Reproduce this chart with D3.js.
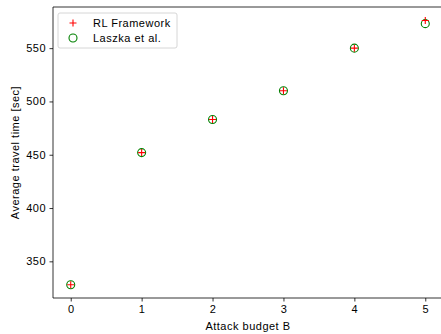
<!DOCTYPE html>
<html>
<head>
<meta charset="utf-8">
<script src="https://cdn.jsdelivr.net/npm/d3@7"></script>
<style>
  body { margin: 0; background: #fff; }
  svg { display: block; font-family: "Liberation Sans", Arial, sans-serif; letter-spacing: 0.5px; }
  .tick text { font-size: 11px; fill: #000; }
</style>
</head>
<body>
<script>
const budgets = [0, 1, 2, 3, 4, 5];
const rlTimes = [328, 452, 483, 510, 550, 576];
const laszkaTimes = [328, 452, 483, 510, 550, 573];
const yTicks = [350, 400, 450, 500, 550];
const seriesNames = ["RL Framework", "Laszka et al."];

const width = 441;
const height = 334;
const plotLeft = 53;
const plotTop = 7;
const plotBottom = 298;

const svg = d3.select("body")
  .append("svg")
  .attr("width", width)
  .attr("height", height);

const x = d3.scaleLinear()
  .domain([-0.25, 5.25])
  .range([plotLeft, 443]);

const y = d3.scaleLinear()
  .domain([315.6, 588.6])
  .range([plotBottom, plotTop]);

const xAxis = svg.append("g")
  .attr("transform", `translate(0, ${plotBottom})`)
  .call(d3.axisBottom(x).tickValues(budgets).tickFormat(d3.format("d"))
    .tickSize(3.5).tickPadding(3.5));

const yAxis = svg.append("g")
  .attr("transform", `translate(${plotLeft}, 0)`)
  .call(d3.axisLeft(y).tickValues(yTicks).tickSize(3.5).tickPadding(3.5));

[xAxis, yAxis].forEach(g => {
  g.select(".domain").remove();
  g.selectAll(".tick line").attr("stroke", "#000").attr("stroke-width", 0.8);
});

// spines (right side is cut off in the figure)
svg.append("line")
  .attr("x1", plotLeft).attr("x2", width)
  .attr("y1", plotTop).attr("y2", plotTop)
  .attr("stroke", "#000").attr("stroke-width", 0.8);
svg.append("line")
  .attr("x1", plotLeft).attr("x2", width)
  .attr("y1", plotBottom).attr("y2", plotBottom)
  .attr("stroke", "#000").attr("stroke-width", 0.8);
svg.append("line")
  .attr("x1", plotLeft).attr("x2", plotLeft)
  .attr("y1", plotTop).attr("y2", plotBottom)
  .attr("stroke", "#000").attr("stroke-width", 0.8);

svg.append("text")
  .attr("x", 248)
  .attr("y", 330)
  .attr("text-anchor", "middle")
  .attr("font-size", "11px")
  .text("Attack budget B");

svg.append("text")
  .attr("transform", `translate(19, ${(plotTop + plotBottom) / 2}) rotate(-90)`)
  .attr("text-anchor", "middle")
  .attr("font-size", "11px")
  .text("Average travel time [sec]");

function drawPlus(g, cx, cy) {
  g.append("path")
    .attr("d", `M${cx - 3.5},${cy}H${cx + 3.5}M${cx},${cy - 3.5}V${cy + 3.5}`)
    .attr("stroke", "red")
    .attr("stroke-width", 1.1)
    .attr("fill", "none");
}

svg.selectAll("circle.laszka")
  .data(budgets)
  .join("circle")
  .attr("class", "laszka")
  .attr("cx", d => x(d))
  .attr("cy", (d, i) => y(laszkaTimes[i]))
  .attr("r", 4)
  .attr("fill", "none")
  .attr("stroke", "green")
  .attr("stroke-width", 1.1);

const rl = svg.append("g");
budgets.forEach((d, i) => drawPlus(rl, x(d), y(rlTimes[i])));

// legend
const legend = svg.append("g").attr("transform", "translate(58, 13)");
legend.append("rect")
  .attr("width", 119)
  .attr("height", 35)
  .attr("rx", 2)
  .attr("fill", "#fff")
  .attr("stroke", "#ccc")
  .attr("stroke-width", 0.8);
drawPlus(legend, 15, 10);
legend.append("circle")
  .attr("cx", 15).attr("cy", 25).attr("r", 4)
  .attr("fill", "none").attr("stroke", "green").attr("stroke-width", 1.1);
seriesNames.forEach((name, i) => {
  legend.append("text")
    .attr("x", 35)
    .attr("y", 14 + i * 15)
    .attr("font-size", "11px")
    .text(name);
});
</script>
</body>
</html>
